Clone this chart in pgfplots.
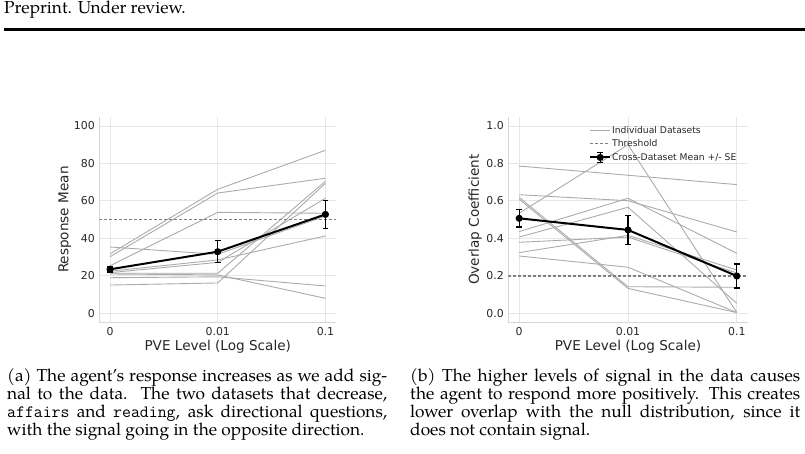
\documentclass[border=0pt]{standalone}
\usepackage{fontspec}
\setmainfont{texgyrepagella}[Extension=.otf, UprightFont=*-regular, BoldFont=*-bold, ItalicFont=*-italic, BoldItalicFont=*-bolditalic]
\newfontfamily\plotfont{DejaVu Sans}
\usepackage{pgfplots}
\pgfplotsset{compat=1.18}
\definecolor{txt}{HTML}{262626}
\definecolor{gridc}{HTML}{E6E6E6}
\definecolor{spine}{HTML}{D6D6D6}
\definecolor{indiv}{HTML}{ABABAB}
\definecolor{thr}{HTML}{7F7F7F}
\newcommand{\labfont}{\plotfont\fontsize{13.6bp}{16bp}\selectfont}
\newcommand{\capsize}{\fontsize{17.3bp}{18bp}\selectfont}
\tikzset{
  indline/.style={indiv, line width=0.9bp, mark=none},
  thrline/.style={thr, line width=1.3bp, dash pattern=on 3bp off 2bp, mark=none},
}
\pgfplotsset{
  myaxis/.style={
    scale only axis, anchor=south west,
    xmin=-0.1, xmax=2.1,
    axis x line*=bottom, axis y line*=left,
    axis line style={spine, line width=0.9bp},
    major tick length=0pt,
    grid=major, grid style={gridc, line width=0.9bp},
    xtick={0,1,2}, xticklabels={0,0.01,0.1},
    /pgf/number format/assume math mode=true,
    tick label style={font=\plotfont\fontsize{10.9bp}{13bp}\selectfont, text=txt, inner sep=0pt},
    xticklabel style={anchor=north, yshift=-5bp},
    yticklabel style={anchor=east, xshift=-4.3bp},
    every axis x label/.style={at={(axis description cs:0.5,-0.1165)}, anchor=center, font=\labfont, text=txt},
    legend image code/.code={\draw[##1] (0bp,0bp) -- (20bp,0bp);},
  },
  meanplot/.style={black, line width=2bp, mark=*, mark size=2.5bp,
    legend image code/.code={
      \draw[black, line width=2bp] (0bp,0bp) -- (20bp,0bp);
      \fill[black] (10bp,0bp) circle (2.5bp);
      \draw[black, line width=1.3bp] (10bp,-5bp) -- (10bp,5bp) (7.2bp,5bp) -- (12.8bp,5bp) (7.2bp,-5bp) -- (12.8bp,-5bp);
    },
    error bars/.cd, y dir=both, y explicit,
    error bar style={black, line width=1.3bp},
    error mark options={rotate=90, mark size=2.8bp, line width=1.3bp, black}},
}
\begin{document}
\begin{tikzpicture}[x=1bp,y=1bp]
\useasboundingbox (0,0) rectangle (805,454);
\node[anchor=base west, inner sep=0pt] at (4,440.5) {\capsize Preprint. Under review.};
\fill[black] (4,423) rectangle (805,426);

% ---------- left panel
\begin{axis}[myaxis, at={(99.3bp,131.3bp)}, width=236.9bp, height=206.1bp,
  ymin=-5, ymax=105, ytick={0,20,40,60,80,100},
  xlabel={PVE Level (Log Scale)}, ylabel={Response Mean},
  every axis y label/.style={at={(axis description cs:-0.145,0.5)}, anchor=center, rotate=90, font=\labfont, text=txt}]
\addplot[indline] coordinates {(0,31.7) (1,66.2) (2,87.0)};
\addplot[indline] coordinates {(0,30.2) (1,64.2) (2,72.1)};
\addplot[indline] coordinates {(0,25.4) (1,53.9) (2,53.4)};
\addplot[indline] coordinates {(0,35.4) (1,31.5) (2,52.0)};
\addplot[indline] coordinates {(0,21.7) (1,27.2) (2,61.4)};
\addplot[indline] coordinates {(0,22.5) (1,28.5) (2,41.3)};
\addplot[indline] coordinates {(0,21.4) (1,21.4) (2,70.5)};
\addplot[indline] coordinates {(0,15.1) (1,16.2) (2,69.4)};
\addplot[indline] coordinates {(0,19.0) (1,19.5) (2,14.6)};
\addplot[indline] coordinates {(0,21.0) (1,20.5) (2,8.0)};
\addplot[thrline] coordinates {(-0.1,50) (2.1,50)};
\addplot[meanplot] coordinates {(0,23.5) +- (0,1.5) (1,32.9) +- (0,5.8) (2,52.8) +- (0,7.4)};
\end{axis}

% ---------- right panel
\begin{axis}[myaxis, at={(508.3bp,131.3bp)}, width=239.4bp, height=206.1bp,
  ymin=-0.05, ymax=1.05, ytick={0,0.2,0.4,0.6,0.8,1},
  yticklabel style={/pgf/number format/.cd, fixed, fixed zerofill, precision=1},
  xlabel={PVE Level (Log Scale)}, ylabel={Overlap Coefficient},
  every axis y label/.style={at={(axis description cs:-0.139,0.5)}, anchor=center, rotate=90, font=\labfont, text=txt},
  legend cell align=left,
  legend style={at={(axis description cs:0.337,0.959)}, anchor=north west, draw=none, fill=none,
    font=\plotfont\fontsize{9.2bp}{11bp}\selectfont, text=txt, inner sep=0pt, row sep=2.8bp,
    nodes={inner sep=1bp}, /tikz/every even column/.append style={column sep=5.5bp}}]
\addplot[indline] coordinates {(0,0.786) (1,0.737) (2,0.687)};
\addlegendentry{Individual Datasets}
\addplot[indline, forget plot] coordinates {(0,0.534) (1,0.900) (2,0.004)};
\addplot[indline, forget plot] coordinates {(0,0.633) (1,0.601) (2,0.434)};
\addplot[indline, forget plot] coordinates {(0,0.436) (1,0.614) (2,0.320)};
\addplot[indline, forget plot] coordinates {(0,0.407) (1,0.566) (2,0.053)};
\addplot[indline, forget plot] coordinates {(0,0.619) (1,0.142) (2,0.139)};
\addplot[indline, forget plot] coordinates {(0,0.609) (1,0.133) (2,0.004)};
\addplot[indline, forget plot] coordinates {(0,0.324) (1,0.416) (2,0.231)};
\addplot[indline, forget plot] coordinates {(0,0.379) (1,0.407) (2,0.215)};
\addplot[indline, forget plot] coordinates {(0,0.306) (1,0.246) (2,0.004)};
\addplot[thrline] coordinates {(-0.1,0.2) (2.1,0.2)};
\addlegendentry{Threshold}
\addplot[meanplot] coordinates {(0,0.507) +- (0,0.046) (1,0.445) +- (0,0.078) (2,0.199) +- (0,0.064)};
\addlegendentry{Cross-Dataset Mean +/- SE}
\end{axis}

% ---------- captions
\node[anchor=base west, inner sep=0pt] at (7,72.5) {\parbox[t]{380bp}{\capsize
\hbox to \hsize{(a) The agent's response increases as we add sig-}
\hbox to \hsize{nal to the data.\ \ The two datasets that decrease,}
\hbox to \hsize{\texttt{affairs} and \texttt{reading}, ask directional questions,}
\hbox{with the signal going in the opposite direction.}}};
\node[anchor=base west, inner sep=0pt] at (410,72.5) {\parbox[t]{390bp}{\capsize
\hbox to \hsize{(b) The higher levels of signal in the data causes}
\hbox to \hsize{the agent to respond more positively. This creates}
\hbox to \hsize{lower overlap with the null distribution, since it}
\hbox{does not contain signal.}}};
\end{tikzpicture}
\end{document}
